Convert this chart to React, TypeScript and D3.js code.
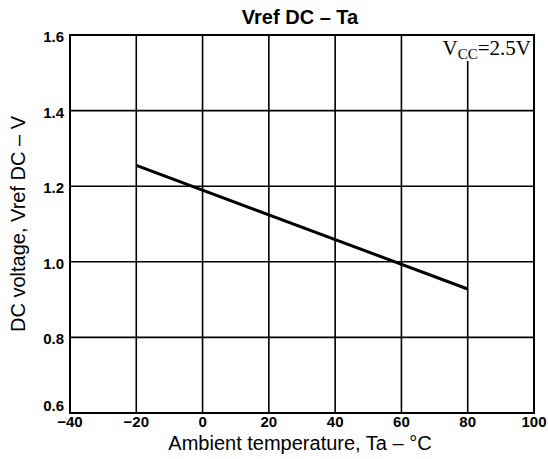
import * as d3 from 'd3';
import React from 'react';

// temperature (°C) and reference voltage (V)
const tempC = [-20, 80];
const vrefV = [1.255, 0.928];
const xTicks = [-40, -20, 0, 20, 40, 60, 80, 100];
const yTicks = [0.6, 0.8, 1.0, 1.2, 1.4, 1.6];

const W = 548;
const H = 459;
const margin = { left: 70, right: 14, top: 35, bottom: 46 };

export default function App() {
    const x = d3.scaleLinear().domain([-40, 100]).range([margin.left, W - margin.right]);
    const y = d3.scaleLinear().domain([0.6, 1.6]).range([H - margin.bottom, margin.top]);
    const pts = tempC.map((t, i) => [t, vrefV[i]] as [number, number]);
    const line = d3.line<[number, number]>().x(d => x(d[0])).y(d => y(d[1]));
    const tickFont = "'Liberation Sans', Arial, sans-serif";

    return (
        <svg width={W} height={H} style={{ position: 'absolute', left: 0, top: 0, background: '#fff' }}>
            <text x={300} y={24} textAnchor="middle" fontFamily={tickFont} fontWeight="bold" fontSize={20}>Vref DC – Ta</text>
            {/* grid */}
            {xTicks.slice(1, -1).map(t => (
                <line key={'gx' + t} x1={x(t)} x2={x(t)} y1={t === 80 ? 61 : y(1.6)} y2={y(0.6)} stroke="#000" strokeWidth={1.6} />
            ))}
            {yTicks.slice(1, -1).map(v => (
                <line key={'gy' + v} x1={x(-40)} x2={x(100)} y1={y(v)} y2={y(v)} stroke="#000" strokeWidth={1.6} />
            ))}
            <rect x={x(-40)} y={y(1.6)} width={x(100) - x(-40)} height={y(0.6) - y(1.6)} fill="none" stroke="#000" strokeWidth={2} />
            <path d={line(pts) || ''} fill="none" stroke="#000" strokeWidth={3} />
            {/* y ticks */}
            {yTicks.map(v => (
                <text key={'ty' + v} x={margin.left - 6} y={y(v) + (v === 0.6 ? -2 : 7)} textAnchor="end" fontFamily={tickFont} fontWeight="bold" fontSize={15}>{v.toFixed(1)}</text>
            ))}
            {xTicks.map(t => (
                <text key={'tx' + t} x={x(t)} y={y(0.6) + 14} textAnchor="middle" fontFamily={tickFont} fontWeight="bold" fontSize={15}>{t < 0 ? '−' + Math.abs(t) : t}</text>
            ))}
            <text x={300} y={450} textAnchor="middle" fontFamily={tickFont} fontSize={20}>Ambient temperature, Ta – °C</text>
            <text transform={`translate(25, ${(y(0.6) + y(1.6)) / 2}) rotate(-90)`} textAnchor="middle" fontFamily={tickFont} fontSize={20}>DC voltage, Vref DC – V</text>
            <text x={531} y={55} textAnchor="end" fontFamily="'Liberation Serif', 'DejaVu Serif', serif" fontSize={21}>
                V<tspan fontSize={15} dy={4}>CC</tspan><tspan dy={-4}>=2.5V</tspan>
            </text>
        </svg>
    );
}
